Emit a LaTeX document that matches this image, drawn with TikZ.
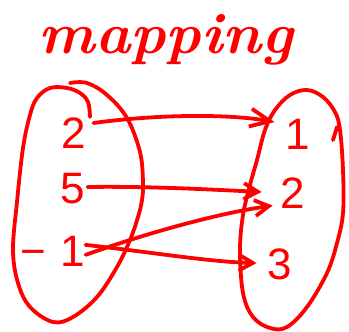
\documentclass[tikz,border=0pt]{standalone}
\usepackage{fontspec}
\newfontfamily\digitfont{Liberation Sans}
\usetikzlibrary{arrows.meta}
\begin{document}
\begin{tikzpicture}[x=1pt,y=-1pt,
  ink/.style={draw=red, line width=3.8pt, line cap=round, line join=round},
  arr/.style={ink, -{Straight Barb[length=14pt,width=16pt]}},
  bigarr/.style={ink, -{Straight Barb[length=20pt,width=18pt]}},
  num/.style={text=red, inner sep=0pt, font=\digitfont\fontsize{44}{44}\selectfont}]
\useasboundingbox (0,0) rectangle (349,332);
% title
\node[text=red, anchor=base, inner sep=0pt] (title) at (166,53)
  {\scalebox{1.03}[1]{\fontsize{58}{58}\selectfont\bfseries\itshape mapping}};
% sets
\draw[ink] plot[smooth, tension=0.6] coordinates {(90,117) (88,102) (80,93) (67,88) (50,88) (37,98) (30,115) (23,148) (17,202) (13,250) (18,283) (30,307) (53,322) (73,317) (97,297) (117,267) (130,240) (138,217) (142,200) (143,182) (140,152) (127,118) (107,95) (87,83) (70,83)};
\draw[ink] plot[smooth cycle, tension=0.6] coordinates {(307,90) (323,97) (335,112) (340,130) (343,170) (343,213) (337,243) (327,273) (307,307) (287,327) (270,328) (253,317) (243,293) (240,250) (243,215) (250,185) (257,160) (265,130) (275,110) (290,95)};
\draw[ink] (333,140) -- (337,127);
% elements
\node[num] (l2) at (74,133) {2};
\node[num] (l5) at (73,189) {5};
\node[num, anchor=base west] (lm1) at (20,266) {−\hspace{15pt}1};
\node[num] (r1) at (298,134) {1};
\node[num] (r2) at (293,193) {2};
\node[num] (r3) at (280,264) {3};
% mapping arrows
\draw[bigarr] ([shift={(7,-10)}]l2.east) .. controls (160,114) and (230,114) .. ([shift={(-11,-12)}]r1.west);
\draw[arr] ([shift={(2,-2)}]l5.east) .. controls (150,186) and (220,190) .. ([shift={(-19,-1)}]r2.west);
\draw[arr] ([shift={(0,4)}]lm1.east) .. controls (150,232) and (220,213) .. ([shift={(-8,-3)}]r2.south west);
\draw[arr] ([shift={(0,-6)}]lm1.east) .. controls (150,252) and (210,262) .. ([shift={(-11,-1)}]r3.west);
\end{tikzpicture}
\end{document}
